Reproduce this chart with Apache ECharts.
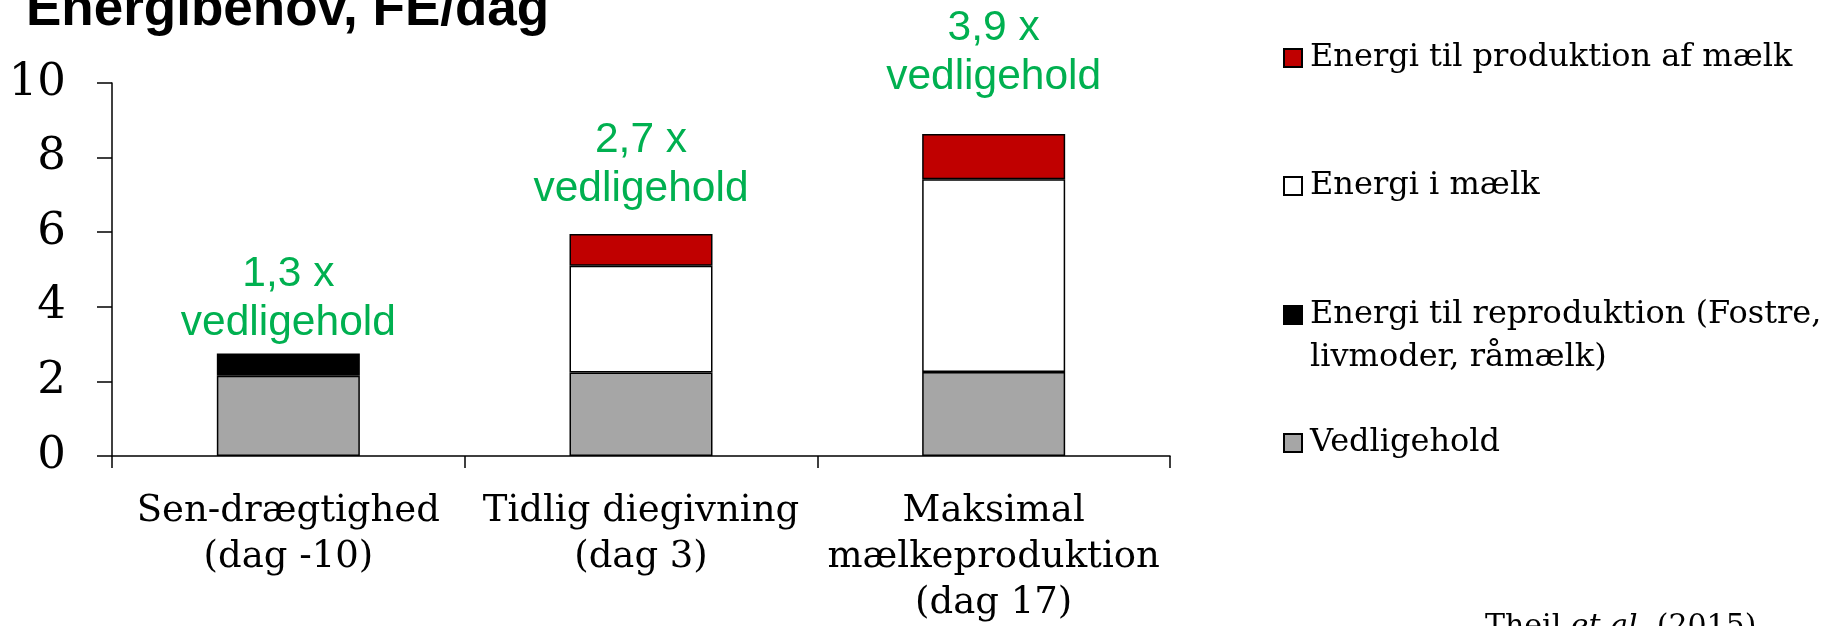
<!DOCTYPE html>
<html>
<head>
<meta charset="utf-8">
<script src="https://cdn.jsdelivr.net/npm/echarts@6/dist/echarts.min.js"></script>
<style>
  html, body { margin: 0; padding: 0; background: #fff; }
  #chart { width: 1835px; height: 626px; }
</style>
</head>
<body>
<div id="chart"></div>
<script>
// kategorier (x-akse)
const categories = [
  'Sen-drægtighed\n(dag -10)',
  'Tidlig diegivning\n(dag 3)',
  'Maksimal\nmælkeproduktion\n(dag 17)'
];

// FE/dag, stablet nedefra og op
const vedligehold = [2.15, 2.24, 2.25];
const reproduktion = [0.6, null, null];
const energiIMaelk = [null, 2.86, 5.17];
const produktionAfMaelk = [null, 0.85, 1.21];

// tekst over søjlerne
const multipliers = ['1,3 x', '2,7 x', '3,9 x'];

const yTicks = [0, 2, 4, 6, 8, 10];

const serif = 'DejaVu Serif';
const sans = 'Liberation Sans';
const labelGap = [6, 20, 32]; // afstand fra søjletop til grøn tekst

const stackDefs = [
  { name: 'Vedligehold', data: vedligehold, color: '#A6A6A6' },
  { name: 'Energi til reproduktion (Fostre, livmoder, råmælk)', data: reproduktion, color: '#000000' },
  { name: 'Energi i mælk', data: energiIMaelk, color: '#FFFFFF' },
  { name: 'Energi til produktion af mælk', data: produktionAfMaelk, color: '#C00000' }
];

// hvilken serie ligger øverst i hver søjle -> den får den grønne tekst
const topIndex = categories.map((c, i) => {
  let top = 0;
  stackDefs.forEach((s, k) => { if (s.data[i] != null) top = k; });
  return top;
});

const series = stackDefs.map((s, k) => ({
  name: s.name,
  type: 'bar',
  stack: 'total',
  barWidth: 143,
  itemStyle: { color: s.color, borderColor: '#000', borderWidth: 1.5 },
  emphasis: { disabled: true },
  data: s.data.map((v, i) => {
    if (v == null) return '-';
    const item = { value: v };
    if (topIndex[i] === k) {
      item.label = {
        show: true,
        position: 'top',
        distance: labelGap[i],
        formatter: multipliers[i] + '\nvedligehold',
        color: '#00B050',
        fontFamily: sans,
        fontSize: 42.5,
        lineHeight: 49
      };
    }
    return item;
  })
}));

// legende: én komponent pr. række for at ramme afstandene
const legendRows = [
  { name: 'Energi til produktion af mælk', center: 58 },
  { name: 'Energi i mælk', center: 186 },
  { name: 'Energi til reproduktion (Fostre, livmoder, råmælk)', center: 315, twoLines: true },
  { name: 'Vedligehold', center: 443 }
];
const legendLH = 43;
const legends = legendRows.map(r => ({
  left: 1283,
  top: r.twoLines ? r.center - legendLH * 1.5 : r.center - legendLH / 2,
  orient: 'vertical',
  padding: 0,
  icon: 'rect',
  itemWidth: 18,
  itemHeight: 18,
  selectedMode: false,
  data: [r.name],
  // tom første linje, så ikonet flugter med den første tekstlinje
  formatter: r.twoLines ? () => ' \nEnergi til reproduktion (Fostre,\nlivmoder, råmælk)' : undefined,
  textStyle: {
    fontFamily: serif,
    fontSize: 32,
    color: '#000',
    lineHeight: legendLH,
    padding: [0, 0, 0, 3]
  }
}));

const chart = echarts.init(document.getElementById('chart'), null, { renderer: 'canvas' });
chart.setOption({
  animation: false,
  title: {
    text: 'Energibehov, FE/dag',
    left: 26,
    top: -16,
    padding: 0,
    textStyle: { fontFamily: sans, fontWeight: 'bold', fontSize: 53, color: '#000' }
  },
  legend: legends,
  grid: { left: 112, right: 665, top: 83, bottom: 170 },
  xAxis: {
    type: 'category',
    data: categories,
    axisLine: { lineStyle: { color: '#000', width: 1.5 } },
    axisTick: { show: true, length: 12, interval: 0, lineStyle: { color: '#000', width: 1.5 } },
    axisLabel: {
      interval: 0,
      margin: 32,
      fontFamily: serif,
      fontSize: 37,
      lineHeight: 46,
      color: '#000'
    }
  },
  yAxis: {
    type: 'value',
    min: yTicks[0],
    max: yTicks[yTicks.length - 1],
    interval: yTicks[1] - yTicks[0],
    splitLine: { show: false },
    axisLine: { show: true, lineStyle: { color: '#000', width: 1.5 } },
    axisTick: { show: true, length: 15, lineStyle: { color: '#000', width: 1.5 } },
    axisLabel: { margin: 46, fontFamily: serif, fontSize: 45, color: '#000' }
  },
  graphic: [{
    type: 'text',
    left: 1485,
    top: 612,
    style: {
      text: '{n|Theil }{i|et al.}{n| (2015)}',
      rich: {
        n: { fontFamily: serif, fontSize: 30, fill: '#000' },
        i: { fontFamily: serif, fontSize: 30, fontStyle: 'italic', fill: '#000' }
      }
    }
  }],
  series: series
});
</script>
</body>
</html>
